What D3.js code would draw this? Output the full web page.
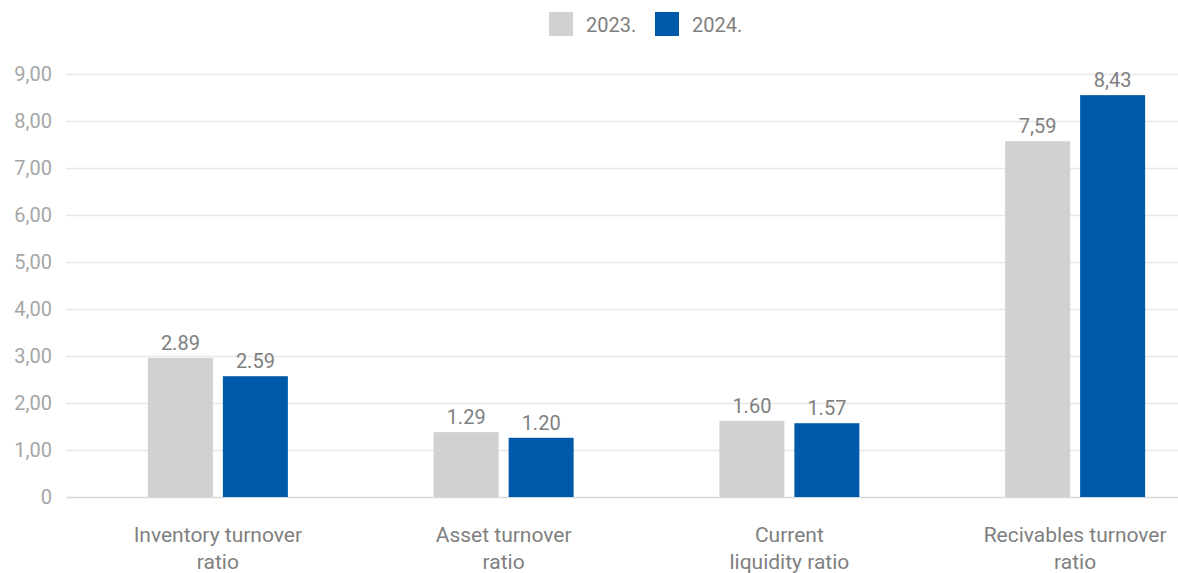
<!DOCTYPE html>
<html>
<head>
<meta charset="utf-8">
<script src="https://cdn.jsdelivr.net/npm/d3@7"></script>
<style>
  html, body { margin: 0; padding: 0; background: #ffffff; }
  #chart { width: 1178px; height: 573px; }
</style>
</head>
<body>
<div id="chart"></div>
<script>
////////////////////////////////////////////////////////////////////////
// chart data -- ratios for 2023. and 2024.
////////////////////////////////////////////////////////////////////////
var categories = [
  ["Inventory turnover", "ratio"],
  ["Asset turnover", "ratio"],
  ["Current", "liquidity ratio"],
  ["Recivables turnover", "ratio"]
];
var seriesNames = ["2023.", "2024."];
var values2023 = [2.96, 1.38, 1.62, 7.57];
var values2024 = [2.57, 1.26, 1.57, 8.55];
var labels2023 = ["2.89", "1.29", "1.60", "7,59"];
var labels2024 = ["2.59", "1.20", "1.57", "8,43"];
var yTicks = [0, 1, 2, 3, 4, 5, 6, 7, 8, 9];
var yTickLabels = ["0", "1,00", "2,00", "3,00", "4,00", "5,00", "6,00", "7,00", "8,00", "9,00"];

////////////////////////////////////////////////////////////////////////
// draw
////////////////////////////////////////////////////////////////////////
function drawChart()
  {
  var width = 1178, height = 573;
  var fontFamily = "Roboto, 'Open Sans', sans-serif";
  var colors = ["#d0d1d3", "#005aaa"];

  var svg = d3.select("#chart")
    .append("svg")
    .attr("width", width)
    .attr("height", height)
    .style("font-family", fontFamily);

  var gridLeft = 66;
  var y = d3.scaleLinear().domain([0, 9]).range([497, 74]);

  // outer band per category, inner band per series
  var x0 = d3.scaleBand()
    .domain(d3.range(categories.length))
    .range([75, 1218])
    .paddingInner(0)
    .paddingOuter(0);

  var x1 = d3.scaleBand()
    .domain(seriesNames)
    .range([x0.bandwidth() / 2 - 70, x0.bandwidth() / 2 + 70])
    .paddingInner(10 / 75)
    .paddingOuter(0);

  // gridlines
  svg.append("g")
    .selectAll("line")
    .data(yTicks)
    .enter()
    .append("line")
    .attr("x1", gridLeft)
    .attr("x2", width)
    .attr("y1", function(d){ return Math.round(y(d)) + 0.5; })
    .attr("y2", function(d){ return Math.round(y(d)) + 0.5; })
    .attr("stroke", function(d){ return d === 0 ? "#d9d9d9" : "#e8e8e8"; })
    .attr("stroke-width", 1.5);

  // y tick labels
  svg.append("g")
    .selectAll("text")
    .data(yTicks)
    .enter()
    .append("text")
    .attr("x", 52)
    .attr("y", function(d){ return y(d) + 7; })
    .attr("text-anchor", "end")
    .attr("fill", "#a6a6a6")
    .style("font-size", "20px")
    .text(function(d, i){ return yTickLabels[i]; });

  var series = [
    {name: seriesNames[0], values: values2023, labels: labels2023, color: colors[0]},
    {name: seriesNames[1], values: values2024, labels: labels2024, color: colors[1]}
  ];

  series.forEach(function(s)
    {
    var g = svg.append("g");

    g.selectAll("rect")
      .data(s.values)
      .enter()
      .append("rect")
      .attr("x", function(d, i){ return x0(i) + x1(s.name); })
      .attr("y", function(d){ return y(d); })
      .attr("width", x1.bandwidth())
      .attr("height", function(d){ return y(0) - y(d); })
      .attr("fill", s.color);

    g.selectAll("text")
      .data(s.values)
      .enter()
      .append("text")
      .attr("x", function(d, i){ return x0(i) + x1(s.name) + x1.bandwidth() / 2; })
      .attr("y", function(d){ return y(d) - 8; })
      .attr("text-anchor", "middle")
      .attr("fill", "#7f7f7f")
      .style("font-size", "20px")
      .text(function(d, i){ return s.labels[i]; });
    });

  // category labels
  var cat = svg.append("g")
    .selectAll("text")
    .data(categories)
    .enter()
    .append("text")
    .attr("text-anchor", "middle")
    .attr("fill", "#7f7f7f")
    .style("font-size", "21px");

  cat.selectAll("tspan")
    .data(function(d, i){ return d.map(function(t, j){ return {t: t, i: i, j: j}; }); })
    .enter()
    .append("tspan")
    .attr("x", function(d){ return x0(d.i) + x0.bandwidth() / 2; })
    .attr("y", function(d){ return 542 + d.j * 27; })
    .text(function(d){ return d.t; });

  // legend
  var legendX = [549, 655];
  var legend = svg.append("g")
    .selectAll("g")
    .data(series)
    .enter()
    .append("g")
    .attr("transform", function(d, i){ return "translate(" + legendX[i] + ",12)"; });

  legend.append("rect")
    .attr("width", 24)
    .attr("height", 24)
    .attr("fill", function(d){ return d.color; });

  legend.append("text")
    .attr("x", 37)
    .attr("y", 19.5)
    .attr("fill", "#7f7f7f")
    .style("font-size", "20px")
    .text(function(d){ return d.name; });

  return;
  }

drawChart();
</script>
</body>
</html>
